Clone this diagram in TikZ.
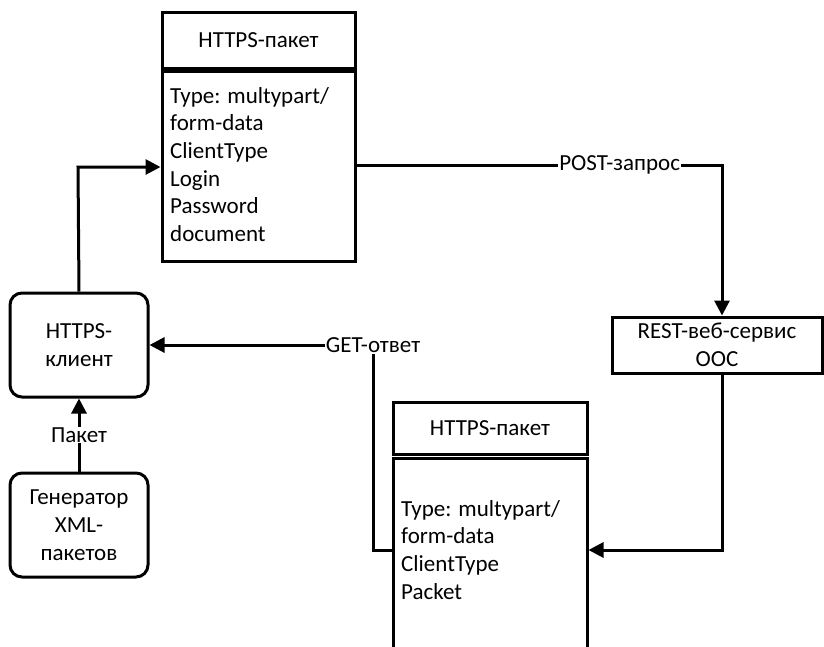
\documentclass[tikz,border=0pt]{standalone}
\usepackage{fontspec}
\setmainfont{Carlito}
\usetikzlibrary{arrows.meta}
\begin{document}
\begin{tikzpicture}[x=1pt,y=-1pt,
  every node/.style={font=\fontsize{23}{27.7}\selectfont},
  box/.style={draw,line width=3pt,inner sep=0pt},
  rbox/.style={box,rounded corners=12pt},
  btxt/.style={align=left,anchor=north west,inner sep=0pt},
  conn/.style={line width=3pt,-{Triangle[length=15pt,width=15pt]}},
  lbl/.style={fill=white,inner sep=1pt}]
\useasboundingbox (0,0) rectangle (824,646);
% top packet
\node[box,minimum width=193pt,minimum height=56pt] (tophead) at (258.5,40) {HTTPS-пакет};
\node[box,minimum width=193pt,minimum height=190pt] (topbody) at (258.5,166.5) {};
\node[btxt] (toptext) at (170,87) {Type: multypart/\\form-data\\ClientType\\Login\\Password\\document};
% client
\node[rbox,minimum width=138pt,minimum height=104pt,align=center] (client) at (79,345) {HTTPS-\\клиент};
% generator
\node[rbox,minimum width=138pt,minimum height=104pt,align=center] (gen) at (79,525) {Генератор\\XML-\\пакетов};
% REST
\node[box,minimum width=210pt,minimum height=56pt,align=center] (rest) at (717,345) {REST-веб-сервис\\ООС};
% bottom packet
\node[box,minimum width=194pt,minimum height=52pt] (bothead) at (490,428.5) {HTTPS-пакет};
\node[box,minimum width=194pt,minimum height=220pt] (botbody) at (490,568.5) {};
\node[btxt] (bottext) at (401,500) {Type: multypart/\\form-data\\ClientType\\Packet};
% connectors
\draw[conn] (client.north) -- (78,167) -- (topbody.west |- 0,167);
\draw[conn] (topbody.east |- 0,165) -- node[lbl,pos=0.72] (post) {POST-запрос} (722,165) -- (rest.north -| 722,0);
\draw[conn] (rest.south -| 722,0) -- (722,550) -- (botbody.east |- 0,550);
\draw[line width=3pt] (botbody.west |- 0,550) -- (373,550) -- (373,345);
\node[lbl] (get) at (373,345) {GET-ответ};
\draw[conn] (get.west) -- (client.east |- get.west);
\draw[conn] (gen.north) -- node[lbl] (pak) {Пакет} (client.south);
\end{tikzpicture}
\end{document}
